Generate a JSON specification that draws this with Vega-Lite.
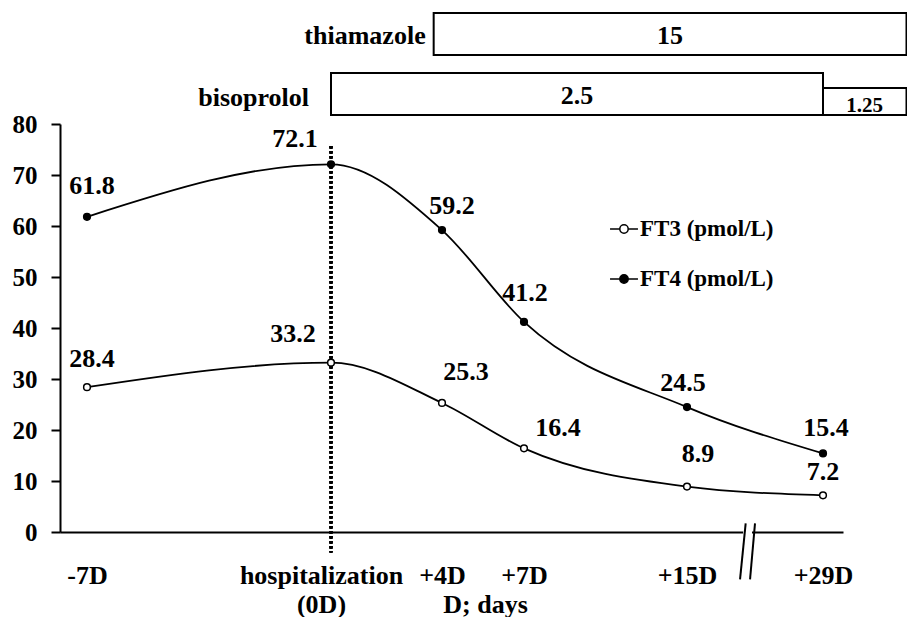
{
  "$schema": "https://vega.github.io/schema/vega-lite/v6.json",
  "padding": {"left": 12, "top": 12, "right": 0, "bottom": 0},
  "background": "white",
  "bounds": "flush",
  "datasets": {
    "drugs": [
      {"drug": "thiamazole", "dose": "15", "start": 3.7, "end": 37.6},
      {"drug": "bisoprolol", "dose": "2.5", "start": 0, "end": 29},
      {"drug": "bisoprolol", "dose": "1.25", "start": 29, "end": 37.6}
    ],
    "labs": [
      {"day": -7, "series": "FT3 (pmol/L)", "value": 28.4},
      {"day": 0, "series": "FT3 (pmol/L)", "value": 33.2},
      {"day": 4, "series": "FT3 (pmol/L)", "value": 25.3},
      {"day": 7, "series": "FT3 (pmol/L)", "value": 16.4},
      {"day": 15, "series": "FT3 (pmol/L)", "value": 8.9},
      {"day": 29, "series": "FT3 (pmol/L)", "value": 7.2},
      {"day": -7, "series": "FT4 (pmol/L)", "value": 61.8},
      {"day": 0, "series": "FT4 (pmol/L)", "value": 72.1},
      {"day": 4, "series": "FT4 (pmol/L)", "value": 59.2},
      {"day": 7, "series": "FT4 (pmol/L)", "value": 41.2},
      {"day": 15, "series": "FT4 (pmol/L)", "value": 24.5},
      {"day": 29, "series": "FT4 (pmol/L)", "value": 15.4}
    ]
  },
  "spacing": 9,
  "resolve": {"scale": {"x": "shared", "y": "independent"}},
  "vconcat": [
    {
      "width": 783,
      "height": 102,
      "data": {"name": "drugs"},
      "layer": [
        {
          "transform": [{"filter": "datum.dose != '1.25'"}],
          "mark": {"type": "bar", "fill": "white", "stroke": "black", "strokeWidth": 2},
          "encoding": {
            "x": {"field": "start", "type": "quantitative", "axis": null,
                  "scale": {"type": "linear", "domain": [-7.775, -7, 0, 4, 7, 15, 29, 31.06], "range": [0, 27, 271, 382, 464, 627, 763, 783], "nice": false, "zero": false}},
            "x2": {"field": "end"},
            "y": {"field": "drug", "type": "nominal", "axis": null,
                  "scale": {"domain": ["thiamazole", "bisoprolol"], "paddingInner": 0.3, "paddingOuter": 0}}
          }
        },
        {
          "transform": [{"filter": "datum.dose == '1.25'"}],
          "mark": {"type": "bar", "fill": "white", "stroke": "black", "strokeWidth": 2, "height": 27, "yOffset": 7.5},
          "encoding": {
            "x": {"field": "start", "type": "quantitative"},
            "x2": {"field": "end"},
            "y": {"field": "drug", "type": "nominal"}
          }
        },
        {
          "transform": [{"filter": "datum.dose == '15'"}],
          "mark": {"type": "text", "style": "big", "align": "right", "dx": -8, "dy": 2},
          "encoding": {
            "x": {"field": "start", "type": "quantitative"},
            "y": {"field": "drug", "type": "nominal"},
            "text": {"field": "drug"}
          }
        },
        {
          "transform": [{"filter": "datum.dose == '2.5'"}],
          "mark": {"type": "text", "style": "big", "align": "right", "dx": -22, "dy": 4},
          "encoding": {
            "x": {"field": "start", "type": "quantitative"},
            "y": {"field": "drug", "type": "nominal"},
            "text": {"field": "drug"}
          }
        },
        {
          "transform": [{"filter": "datum.dose != '1.25'"}],
          "mark": {"type": "text", "style": "big", "dy": 2},
          "encoding": {
            "x": {"value": {"expr": "(scale('x', datum.start) + scale('x', datum.end)) / 2"}},
            "y": {"field": "drug", "type": "nominal"},
            "text": {"field": "dose"}
          }
        },
        {
          "transform": [{"filter": "datum.dose == '1.25'"}],
          "mark": {"type": "text", "style": "big", "fontSize": 21, "dy": 11.5},
          "encoding": {
            "x": {"value": {"expr": "(scale('x', datum.start) + scale('x', datum.end)) / 2"}},
            "y": {"field": "drug", "type": "nominal"},
            "text": {"field": "dose"}
          }
        }
      ]
    },
    {
      "width": 783,
      "height": 408,
      "data": {"name": "labs"},
      "layer": [
        {
          "mark": {"type": "line", "interpolate": "monotone", "stroke": "black", "strokeWidth": 1.8},
          "encoding": {
            "x": {"field": "day", "type": "quantitative",
                  "scale": {"type": "linear", "domain": [-7.775, -7, 0, 4, 7, 15, 29, 31.06], "range": [0, 27, 271, 382, 464, 627, 763, 783], "nice": false, "zero": false},
                  "axis": {
                    "values": [-7, 0, 4, 7, 15, 29],
                    "labelExpr": "datum.value == 0 ? ['hospitalization', '(0D)'] : (datum.value > 0 ? '+' + datum.value + 'D' : datum.value + 'D')",
                    "ticks": false,
                    "grid": false,
                    "domainColor": "black",
                    "domainWidth": 2,
                    "labelFont": "Liberation Serif",
                    "labelFontSize": 26,
                    "labelFontWeight": "bold",
                    "labelColor": "black",
                    "labelPadding": 43,
                    "labelLineHeight": 29,
                    "labelBaseline": "middle",
                    "labelOffset": {"condition": {"test": "datum.value == 0", "value": -10}, "value": 0},
                    "labelOverlap": false,
                    "labelFlush": false,
                    "title": "D; days",
                    "titleFont": "Liberation Serif",
                    "titleFontSize": 26,
                    "titleFontWeight": "bold",
                    "titleColor": "black",
                    "titleX": 425,
                    "titleY": 72,
                    "titleBaseline": "middle"
                  }},
            "y": {"field": "value", "type": "quantitative",
                  "scale": {"domain": [0, 80], "nice": false, "zero": true},
                  "axis": {
                    "values": [0, 10, 20, 30, 40, 50, 60, 70, 80],
                    "grid": false,
                    "title": null,
                    "domainColor": "black",
                    "domainWidth": 2,
                    "tickColor": "black",
                    "tickWidth": 2,
                    "tickSize": 9,
                    "labelFont": "Liberation Serif",
                    "labelFontSize": 25,
                    "labelFontWeight": "bold",
                    "labelColor": "black",
                    "labelPadding": 14
                  }},
            "detail": {"field": "series"}
          }
        },
        {
          "mark": {"type": "rule", "stroke": "black", "strokeWidth": 2.5, "strokeDash": [2.5, 2.5]},
          "encoding": {
            "x": {"datum": 0, "type": "quantitative"},
            "y": {"datum": 75.7, "type": "quantitative"},
            "y2": {"datum": -4}
          }
        },
        {
          "mark": {"type": "rule", "stroke": "white", "strokeWidth": 5},
          "encoding": {
            "x": {"datum": 20.85, "type": "quantitative"},
            "x2": {"datum": 21.65},
            "y": {"datum": 0, "type": "quantitative"}
          }
        },
        {
          "data": {"values": [
            {"bx": 21.04, "by": 1.7, "bx2": 20.46, "by2": -9.3},
            {"bx": 22.0, "by": 1.7, "bx2": 21.49, "by2": -9.3}
          ]},
          "mark": {"type": "rule", "stroke": "black", "strokeWidth": 2},
          "encoding": {
            "x": {"field": "bx", "type": "quantitative"},
            "x2": {"field": "bx2"},
            "y": {"field": "by", "type": "quantitative"},
            "y2": {"field": "by2"}
          }
        },
        {
          "mark": {"type": "point", "filled": true, "stroke": "black", "strokeWidth": 1.5, "size": 45, "opacity": 1},
          "encoding": {
            "x": {"field": "day", "type": "quantitative"},
            "y": {"field": "value", "type": "quantitative"},
            "fill": {"field": "series", "type": "nominal",
                     "scale": {"domain": ["FT3 (pmol/L)", "FT4 (pmol/L)"], "range": ["white", "black"]},
                     "legend": {
                       "orient": "none",
                       "legendX": 549,
                       "legendY": 201,
                       "title": null,
                       "padding": 0,
                       "symbolType": "M-1,0H-0.3M0.3,0H1M0.3,0A0.3,0.3,0,1,1,-0.3,0A0.3,0.3,0,1,1,0.3,0Z",
                       "symbolSize": 780,
                       "symbolStrokeColor": "black",
                       "symbolStrokeWidth": 1.5,
                       "labelFont": "Liberation Serif",
                       "labelFontSize": 23,
                       "labelFontWeight": "bold",
                       "labelColor": "black",
                       "labelOffset": 1,
                       "rowPadding": 23
                     }}
          }
        },
        {"transform": [{"filter": "datum.series == 'FT4 (pmol/L)' && datum.day == -7"}], "mark": {"type": "text", "style": "big", "dx": 5, "dy": -31}, "encoding": {"x": {"field": "day", "type": "quantitative"}, "y": {"field": "value", "type": "quantitative"}, "text": {"field": "value", "type": "quantitative", "format": ".1f"}}},
        {"transform": [{"filter": "datum.series == 'FT4 (pmol/L)' && datum.day == 0"}], "mark": {"type": "text", "style": "big", "dx": -36, "dy": -25}, "encoding": {"x": {"field": "day", "type": "quantitative"}, "y": {"field": "value", "type": "quantitative"}, "text": {"field": "value", "type": "quantitative", "format": ".1f"}}},
        {"transform": [{"filter": "datum.series == 'FT4 (pmol/L)' && datum.day == 4"}], "mark": {"type": "text", "style": "big", "dx": 10, "dy": -24}, "encoding": {"x": {"field": "day", "type": "quantitative"}, "y": {"field": "value", "type": "quantitative"}, "text": {"field": "value", "type": "quantitative", "format": ".1f"}}},
        {"transform": [{"filter": "datum.series == 'FT4 (pmol/L)' && datum.day == 7"}], "mark": {"type": "text", "style": "big", "dx": 1, "dy": -29}, "encoding": {"x": {"field": "day", "type": "quantitative"}, "y": {"field": "value", "type": "quantitative"}, "text": {"field": "value", "type": "quantitative", "format": ".1f"}}},
        {"transform": [{"filter": "datum.series == 'FT4 (pmol/L)' && datum.day == 15"}], "mark": {"type": "text", "style": "big", "dx": -4, "dy": -24}, "encoding": {"x": {"field": "day", "type": "quantitative"}, "y": {"field": "value", "type": "quantitative"}, "text": {"field": "value", "type": "quantitative", "format": ".1f"}}},
        {"transform": [{"filter": "datum.series == 'FT4 (pmol/L)' && datum.day == 29"}], "mark": {"type": "text", "style": "big", "dx": 3, "dy": -25}, "encoding": {"x": {"field": "day", "type": "quantitative"}, "y": {"field": "value", "type": "quantitative"}, "text": {"field": "value", "type": "quantitative", "format": ".1f"}}},
        {"transform": [{"filter": "datum.series == 'FT3 (pmol/L)' && datum.day == -7"}], "mark": {"type": "text", "style": "big", "dx": 5, "dy": -28}, "encoding": {"x": {"field": "day", "type": "quantitative"}, "y": {"field": "value", "type": "quantitative"}, "text": {"field": "value", "type": "quantitative", "format": ".1f"}}},
        {"transform": [{"filter": "datum.series == 'FT3 (pmol/L)' && datum.day == 0"}], "mark": {"type": "text", "style": "big", "dx": -38, "dy": -29}, "encoding": {"x": {"field": "day", "type": "quantitative"}, "y": {"field": "value", "type": "quantitative"}, "text": {"field": "value", "type": "quantitative", "format": ".1f"}}},
        {"transform": [{"filter": "datum.series == 'FT3 (pmol/L)' && datum.day == 4"}], "mark": {"type": "text", "style": "big", "dx": 24, "dy": -31}, "encoding": {"x": {"field": "day", "type": "quantitative"}, "y": {"field": "value", "type": "quantitative"}, "text": {"field": "value", "type": "quantitative", "format": ".1f"}}},
        {"transform": [{"filter": "datum.series == 'FT3 (pmol/L)' && datum.day == 7"}], "mark": {"type": "text", "style": "big", "dx": 34, "dy": -20}, "encoding": {"x": {"field": "day", "type": "quantitative"}, "y": {"field": "value", "type": "quantitative"}, "text": {"field": "value", "type": "quantitative", "format": ".1f"}}},
        {"transform": [{"filter": "datum.series == 'FT3 (pmol/L)' && datum.day == 15"}], "mark": {"type": "text", "style": "big", "dx": 11, "dy": -33}, "encoding": {"x": {"field": "day", "type": "quantitative"}, "y": {"field": "value", "type": "quantitative"}, "text": {"field": "value", "type": "quantitative", "format": ".1f"}}},
        {"transform": [{"filter": "datum.series == 'FT3 (pmol/L)' && datum.day == 29"}], "mark": {"type": "text", "style": "big", "dx": 0, "dy": -23}, "encoding": {"x": {"field": "day", "type": "quantitative"}, "y": {"field": "value", "type": "quantitative"}, "text": {"field": "value", "type": "quantitative", "format": ".1f"}}}
      ]
    }
  ],
  "config": {
    "font": "Liberation Serif",
    "view": {"stroke": null},
    "style": {
      "big": {"font": "Liberation Serif", "fontSize": 26, "fontWeight": "bold", "fill": "black", "align": "center", "baseline": "middle"}
    }
  }
}
